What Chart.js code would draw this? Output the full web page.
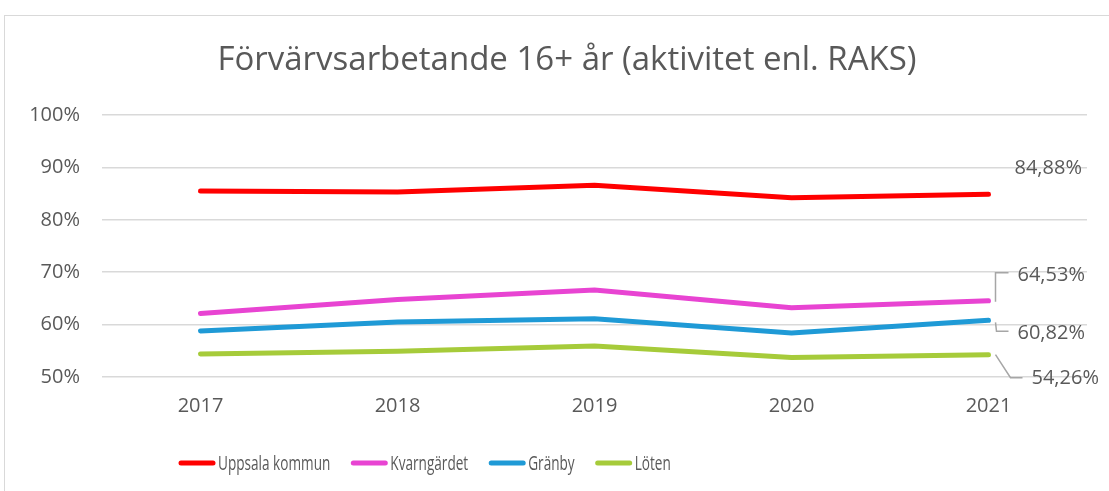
<!DOCTYPE html>
<html>
<head>
<meta charset="utf-8">
<script src="https://cdn.jsdelivr.net/npm/chart.js@4"></script>
<style>
  html, body { margin: 0; padding: 0; background: #fff; }
  #wrap { position: relative; width: 1109px; height: 491px; }
  #frame { position: absolute; left: 4px; top: 15px; width: 1120px; height: 500px; border: 1px solid #d9d9d9; box-sizing: border-box; }
  canvas { position: absolute; left: 0; top: 0; }
</style>
</head>
<body>
<div id="wrap">
  <div id="frame"></div>
  <canvas id="chart" width="1109" height="491"></canvas>
</div>
<script>
  const years = ["2017", "2018", "2019", "2020", "2021"];
  const uppsala = [85.5, 85.3, 86.6, 84.2, 84.88];
  const kvarngardet = [62.1, 64.8, 66.6, 63.2, 64.53];
  const granby = [58.8, 60.5, 61.1, 58.4, 60.82];
  const loten = [54.4, 54.9, 55.9, 53.7, 54.26];
  const yTicks = [50, 60, 70, 80, 90, 100];

  const textColor = "#595959";
  const font = "Open Sans";

  const fmt = v => v.toFixed(2).replace(".", ",") + "%";

  /* title + legend + end labels, drawn by hand */
  const decor = {
    id: "decor",
    afterDatasetsDraw(chart) {
      const c = chart.ctx;
      c.save();
      c.fillStyle = textColor;
      c.font = "33px '" + font + "'";
      c.textAlign = "center";
      c.textBaseline = "middle";
      c.fillText("Förvärvsarbetande 16+ år (aktivitet enl. RAKS)", 567, 61);

      // legend (text is narrower in the original, squeeze it a bit)
      const squeeze = 0.68;
      c.font = "20px '" + font + "'";
      c.textAlign = "left";
      const lineW = 36, gapTxt = 3, gapItem = 21;
      let x = 179;
      const ly = 463;
      chart.data.datasets.forEach(d => {
        const w = c.measureText(d.label).width * squeeze;
        c.strokeStyle = d.borderColor;
        c.lineWidth = 5;
        c.lineCap = "round";
        c.beginPath();
        c.moveTo(x + 2, ly);
        c.lineTo(x + lineW - 2, ly);
        c.stroke();
        c.fillStyle = textColor;
        c.fillText(d.label, x + lineW + gapTxt, ly + 1, w);
        x += lineW + gapTxt + w + gapItem;
      });

      // end labels with leader lines
      const offs = [
        { dx: 26, dy: -26, lead: null },
        { dx: 29, dy: -26, lead: [[7, 1], [7, -28], [20, -28]] },
        { dx: 29, dy: 13, lead: [[7, 2], [8, 11], [20, 11]] },
        { dx: 43, dy: 24, lead: [[7, 0], [22, 23], [34, 23]] }
      ];
      c.font = "20px '" + font + "'";
      chart.data.datasets.forEach((d, i) => {
        const meta = chart.getDatasetMeta(i);
        const p = meta.data[meta.data.length - 1];
        const o = offs[i];
        if (o.lead) {
          c.strokeStyle = "#a6a6a6";
          c.lineWidth = 1.5;
          c.lineCap = "butt";
          c.beginPath();
          o.lead.forEach((q, k) => {
            if (k === 0) c.moveTo(p.x + q[0], p.y + q[1]);
            else c.lineTo(p.x + q[0], p.y + q[1]);
          });
          c.stroke();
        }
        c.fillStyle = textColor;
        c.fillText(fmt(d.data[d.data.length - 1]), p.x + o.dx, p.y + o.dy);
      });
      c.restore();
    }
  };

  const mk = (label, data, color) => ({
    label, data,
    borderColor: color,
    backgroundColor: color,
    borderWidth: 5,
    borderCapStyle: "round",
    pointRadius: 0,
    tension: 0
  });

  new Chart(document.getElementById("chart"), {
    type: "line",
    data: {
      labels: years,
      datasets: [
        mk("Uppsala kommun", uppsala, "#ff0000"),
        mk("Kvarngärdet", kvarngardet, "#e844d2"),
        mk("Gränby", granby, "#1f9ad6"),
        mk("Löten", loten, "#a6cb3a")
      ]
    },
    options: {
      responsive: false,
      animation: false,
      layout: { padding: { left: 4, right: 22, top: 115, bottom: 74 } },
      plugins: { legend: { display: false }, tooltip: { enabled: false } },
      scales: {
        x: {
          offset: true,
          grid: { display: false },
          border: { display: false },
          ticks: { color: textColor, font: { family: font, size: 20 }, padding: 9 },
          afterFit: s => { s.height = 40; }
        },
        y: {
          min: 50,
          max: 100,
          afterBuildTicks: s => { s.ticks = yTicks.map(v => ({ value: v })); },
          grid: { color: "#d9d9d9", lineWidth: 1.5, drawTicks: false },
          border: { display: false },
          ticks: { color: textColor, font: { family: font, size: 20 }, padding: 22, callback: v => v + "%" },
          afterFit: s => { s.width = 98; }
        }
      }
    },
    plugins: [decor]
  });
</script>
</body>
</html>
